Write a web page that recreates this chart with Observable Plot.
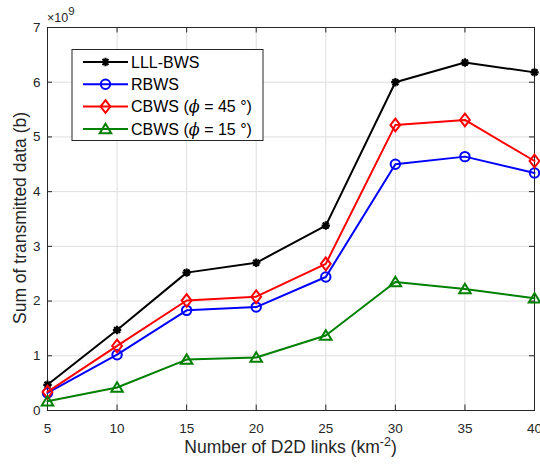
<!DOCTYPE html>
<html>
<head>
<meta charset="utf-8">
<script src="https://cdn.jsdelivr.net/npm/d3@7"></script>
<script src="https://cdn.jsdelivr.net/npm/@observablehq/plot@0.6"></script>
<style>
  html, body { margin: 0; padding: 0; background: #fff; }
  #chart svg { display: block; font-family: "Liberation Sans", Arial, sans-serif; }
</style>
</head>
<body>
<div id="chart"></div>
<script>
// Number of D2D links per km² (x axis)
const links = [5, 10, 15, 20, 25, 30, 35, 40];
// Sum of transmitted data, in units of 10^9 bits
const lllBws = [0.47, 1.47, 2.52, 2.70, 3.38, 6.00, 6.36, 6.18];
const rbws   = [0.32, 1.02, 1.83, 1.89, 2.44, 4.50, 4.64, 4.34];
const cbws45 = [0.34, 1.18, 2.01, 2.08, 2.68, 5.22, 5.31, 4.56];
const cbws15 = [0.17, 0.42, 0.93, 0.97, 1.37, 2.35, 2.22, 2.05];

const xTicks = [5, 10, 15, 20, 25, 30, 35, 40];
const yTicks = [0, 1, 2, 3, 4, 5, 6, 7];
const yExponent = 9;

const seriesNames = ["LLL-BWS", "RBWS", "CBWS45", "CBWS15"];
const seriesValues = [lllBws, rbws, cbws45, cbws15];
const seriesColors = ["#000000", "#0000ff", "#ff0000", "#008000"];

// open MATLAB-like marker shapes
const diamondSym = {
  draw(ctx, size) {
    const r = Math.sqrt(size / Math.PI);
    const w = r * 1.0, h = r * 1.3;
    ctx.moveTo(0, -h); ctx.lineTo(w, 0); ctx.lineTo(0, h); ctx.lineTo(-w, 0); ctx.closePath();
  }
};
const triangleSym = {
  draw(ctx, size) {
    const r = Math.sqrt(size / Math.PI);
    const w = r * 1.15, h = r * 1.0;
    ctx.moveTo(0, -h * 1.05); ctx.lineTo(w, h * 0.85); ctx.lineTo(-w, h * 0.85); ctx.closePath();
  }
};
const starSym = {
  draw(ctx, size) {
    const r = Math.sqrt(size / Math.PI);
    for (let k = 0; k < 4; k++) {
      const a = k * Math.PI / 4;
      ctx.moveTo(-r * Math.cos(a), -r * Math.sin(a));
      ctx.lineTo(r * Math.cos(a), r * Math.sin(a));
    }
  }
};
const seriesSymbols = [starSym, "circle", diamondSym, triangleSym];
const seriesR = [4.2, 4.7, 4.9, 5.0];

const rows = [];
seriesNames.forEach((name, i) => {
  links.forEach((x, j) => rows.push({series: name, x, y: seriesValues[i][j]}));
});

const W = 540, H = 466;
const mL = 47, mR = 6, mT = 27, mB = 56;
const axisColor = "#262626";
const tickLenX = 0.1;   // inward tick length along y (data units)
const tickLenY = 0.36;  // inward tick length along x (data units)

const marks = [
  Plot.gridX(xTicks, {stroke: "#dedede", strokeOpacity: 1, strokeWidth: 1}),
  Plot.gridY(yTicks, {stroke: "#dedede", strokeOpacity: 1, strokeWidth: 1}),
  // inward ticks on all four sides
  Plot.ruleX(xTicks, {x: d => d, y1: 0, y2: tickLenX, stroke: axisColor}),
  Plot.ruleX(xTicks, {x: d => d, y1: 7, y2: 7 - tickLenX, stroke: axisColor}),
  Plot.ruleY(yTicks, {y: d => d, x1: 5, x2: 5 + tickLenY, stroke: axisColor}),
  Plot.ruleY(yTicks, {y: d => d, x1: 40, x2: 40 - tickLenY, stroke: axisColor}),
  Plot.axisX(xTicks, {tickSize: 0, tickPadding: 13, fontSize: 13.5, color: axisColor, label: null,
    tickFormat: d => String(d)}),
  Plot.axisY(yTicks, {tickSize: 0, tickPadding: 7, fontSize: 13.5, color: axisColor, label: null,
    tickFormat: d => String(d)}),
  Plot.frame({stroke: axisColor, strokeWidth: 1})
];
seriesNames.forEach((name, i) => {
  const data = rows.filter(d => d.series === name);
  marks.push(Plot.line(data, {x: "x", y: "y", stroke: seriesColors[i], strokeWidth: 2}));
  marks.push(Plot.dot(data, {x: "x", y: "y", stroke: seriesColors[i], fill: i === 0 ? seriesColors[i] : "none",
    strokeWidth: i === 0 ? 2.2 : 2, r: seriesR[i], symbol: seriesSymbols[i]}));
});

const chart = Plot.plot({
  width: W, height: H,
  marginLeft: mL, marginRight: mR, marginTop: mT, marginBottom: mB,
  style: {fontFamily: "'Liberation Sans', Arial, sans-serif", background: "#fff"},
  x: {domain: [5, 40], ticks: xTicks},
  y: {domain: [0, 7], ticks: yTicks},
  marks
});
document.getElementById("chart").appendChild(chart);

// Annotations: exponent, axis titles and legend
const svg = d3.select(chart);
const font = "'Liberation Sans', Arial, sans-serif";

const ex = svg.append("text").attr("x", mL).attr("y", 22).attr("text-anchor", "start")
  .attr("font-family", font).attr("font-size", 12.5).attr("fill", axisColor);
ex.append("tspan").text("\u00d710");
ex.append("tspan").attr("dy", -7).attr("font-size", 11.5).text(yExponent);

const xl = svg.append("text").attr("x", mL + (W - mL - mR) / 2).attr("y", 453)
  .attr("text-anchor", "middle").attr("font-family", font).attr("font-size", 17.5).attr("fill", axisColor);
xl.append("tspan").text("Number of D2D links (km");
xl.append("tspan").attr("dy", -7).attr("font-size", 12.5).text("-2");
xl.append("tspan").attr("dy", 7).text(")");

svg.append("text").attr("transform", `translate(25.5,${mT + (H - mT - mB) / 2 - 0.5}) rotate(-90)`)
  .attr("text-anchor", "middle").attr("font-family", font).attr("font-size", 17.5).attr("fill", axisColor)
  .text("Sum of transmitted data (b)");

// legend box
const lg = svg.append("g");
lg.append("rect").attr("x", 72).attr("y", 49.5).attr("width", 191).attr("height", 91)
  .attr("fill", "#fff").attr("stroke", axisColor).attr("stroke-width", 1);
const legendRows = [
  {label: ["LLL-BWS"]},
  {label: ["RBWS"]},
  {label: ["CBWS (", "\u03d5", " = 45 \u00b0)"]},
  {label: ["CBWS (", "\u03d5", " = 15 \u00b0)"]}
];
legendRows.forEach((row, i) => {
  const cy = 62 + i * 22.3;
  lg.append("line").attr("x1", 83).attr("x2", 128).attr("y1", cy).attr("y2", cy)
    .attr("stroke", seriesColors[i]).attr("stroke-width", 2);
  const sym = seriesSymbols[i];
  const symType = typeof sym === "string" ? d3.symbolCircle : sym;
  lg.append("path").attr("transform", `translate(105.5,${cy})`)
    .attr("d", d3.symbol(symType, Math.PI * seriesR[i] * seriesR[i])())
    .attr("stroke", seriesColors[i]).attr("stroke-width", i === 0 ? 2.2 : 2)
    .attr("fill", i === 0 ? seriesColors[i] : "none");
  const t = lg.append("text").attr("x", 131).attr("y", cy + 5.8).attr("text-anchor", "start")
    .attr("font-family", font).attr("font-size", 16).attr("fill", "#000");
  row.label.forEach(part => {
    const sp = t.append("tspan").text(part);
    if (part === "\u03d5") sp.attr("font-style", "italic").attr("font-family", "'DejaVu Serif', serif");
  });
});
</script>
</body>
</html>
